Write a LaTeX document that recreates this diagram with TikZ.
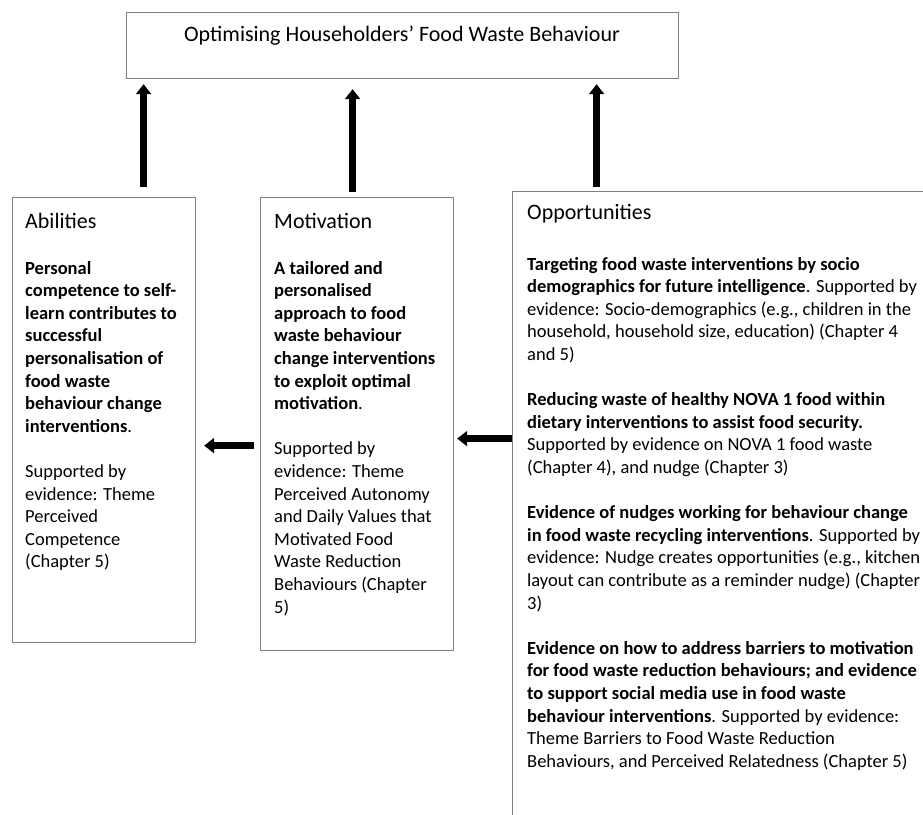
\documentclass[tikz,border=0pt]{standalone}
\usepackage{fontspec}
\setmainfont{Carlito}
\usetikzlibrary{arrows.meta}
\begin{document}
\begin{tikzpicture}[x=1pt,y=-1pt,
  box/.style={draw=black!50, line width=1.2pt, inner sep=0pt, anchor=north west},
  headtxt/.style={font=\fontsize{22}{26.8}\selectfont, anchor=base west, inner sep=0pt},
  bodytxt/.style={font=\fontsize{18.5}{22.6}\selectfont, anchor=base west, inner sep=0pt, align=left},
  arr/.style={line width=7pt, -{Triangle[width=15pt,length=10pt]}}]
\useasboundingbox (0,0) rectangle (923,814);
% boxes
\node[box, minimum width=552pt, minimum height=66pt] (top) at (126,12) {};
\node[box, minimum width=183pt, minimum height=445pt] (abil) at (12,197) {};
\node[box, minimum width=193pt, minimum height=453pt] (moti) at (260,197) {};
\node[box, minimum width=450pt, minimum height=640pt] (oppo) at (512,191) {};
% title
\node[font=\fontsize{22}{26.8}\selectfont, anchor=base, inner sep=0pt] (title) at (402,41) {Optimising Householders’ Food Waste Behaviour};
% headings
\node[headtxt] (habil) at (25,228) {Abilities};
\node[headtxt] (hmoti) at (274,228) {Motivation};
\node[headtxt] (hoppo) at (527,219) {Opportunities};
% bodies (anchored at the baseline of their last line)
\node[bodytxt] (babil) at (25,567.8) {\textbf{Personal}\\
\textbf{competence to self-}\\
\textbf{learn contributes to}\\
\textbf{successful}\\
\textbf{personalisation of}\\
\textbf{food waste}\\
\textbf{behaviour change}\\
\textbf{interventions}.\\[22.6pt]
Supported by\\
evidence: Theme\\
Perceived\\
Competence\\
(Chapter 5)};
\node[bodytxt] (bmoti) at (274,613) {\textbf{A tailored and}\\
\textbf{personalised}\\
\textbf{approach to food}\\
\textbf{waste behaviour}\\
\textbf{change interventions}\\
\textbf{to exploit optimal}\\
\textbf{motivation}.\\[22.6pt]
Supported by\\
evidence: Theme\\
Perceived Autonomy\\
and Daily Values that\\
Motivated Food\\
Waste Reduction\\
Behaviours (Chapter\\
5)};
\node[bodytxt] (boppo) at (527,767.2) {\textbf{Targeting food waste interventions by socio}\\
\textbf{demographics for future intelligence}. Supported by\\
evidence: Socio-demographics (e.g., children in the\\
household, household size, education) (Chapter 4\\
and 5)\\[22.6pt]
\textbf{Reducing waste of healthy NOVA 1 food within}\\
\textbf{dietary interventions to assist food security.}\\
Supported by evidence on NOVA 1 food waste\\
(Chapter 4), and nudge (Chapter 3)\\[22.6pt]
\textbf{Evidence of nudges working for behaviour change}\\
\textbf{in food waste recycling interventions}. Supported by\\
evidence: Nudge creates opportunities (e.g., kitchen\\
layout can contribute as a reminder nudge) (Chapter\\
3)\\[22.6pt]
\textbf{Evidence on how to address barriers to motivation}\\
\textbf{for food waste reduction behaviours; and evidence}\\
\textbf{to support social media use in food waste}\\
\textbf{behaviour interventions}. Supported by evidence:\\
Theme Barriers to Food Waste Reduction\\
Behaviours, and Perceived Relatedness (Chapter 5)};
% arrow anchor points
\coordinate (a1) at ([xshift=39.5pt]abil.north);
\coordinate (a2) at ([xshift=-4.5pt]moti.north);
\coordinate (a3) at ([xshift=-141pt]oppo.north);
\coordinate (h1) at ([yshift=-21.5pt]moti.west);
\coordinate (h2) at ([yshift=73pt]oppo.west);
% arrows
\draw[arr, shorten <=10pt, shorten >=5pt] (a1) -- (a1 |- top.south);
\draw[arr, shorten <=5pt, shorten >=10pt] (a2) -- (a2 |- top.south);
\draw[arr, shorten <=4pt, shorten >=5pt] (a3) -- (a3 |- top.south);
\draw[arr, shorten <=6pt, shorten >=8pt] (h1) -- (h1 -| abil.east);
\draw[arr, shorten >=3pt] (h2) -- (h2 -| moti.east);
\end{tikzpicture}
\end{document}
